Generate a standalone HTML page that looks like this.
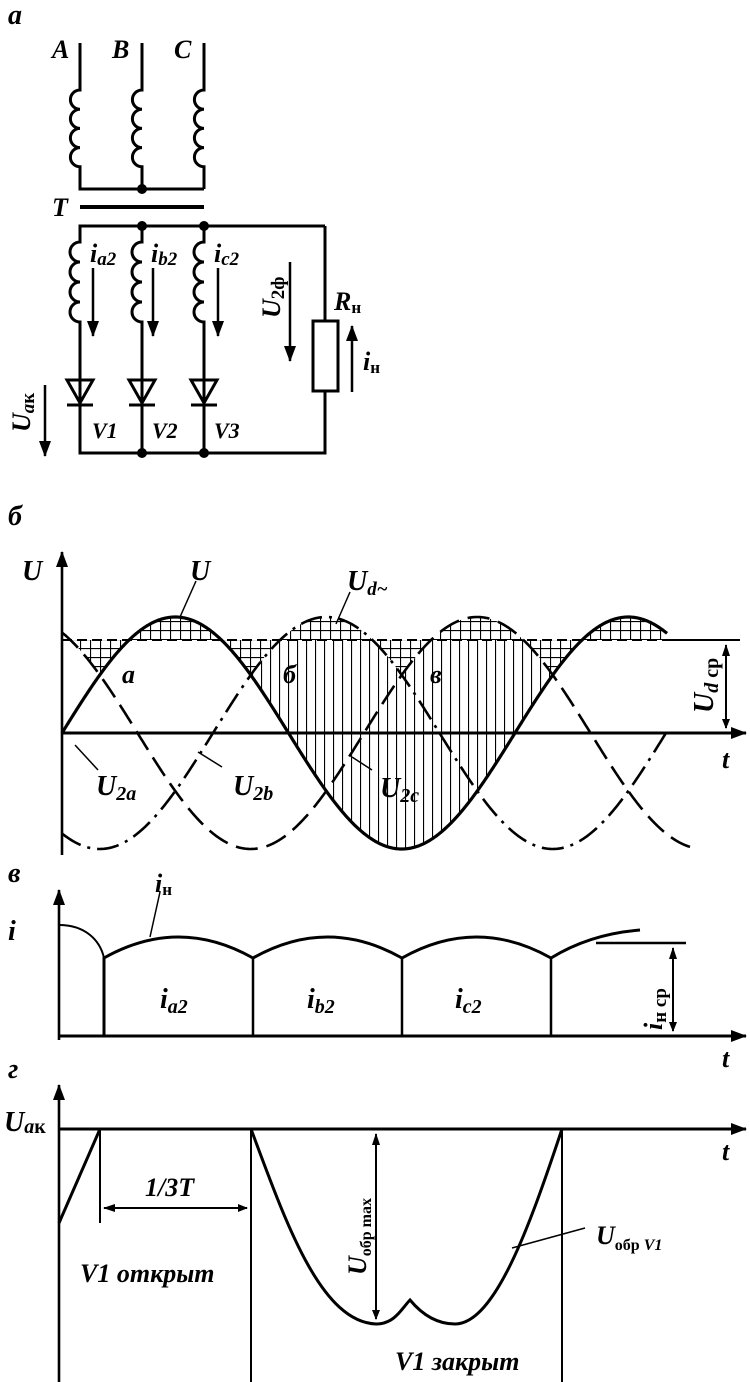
<!DOCTYPE html>
<html><head><meta charset="utf-8"><style>
html,body{margin:0;padding:0;background:#fff}
svg{display:block}
text{font-family:"Liberation Serif",serif;font-weight:bold;font-style:italic;fill:#000}
.n{font-style:normal}
</style></head><body>
<svg id="s" width="750" height="1382" viewBox="0 0 750 1382" xmlns="http://www.w3.org/2000/svg">
<defs>
<marker id="ar" markerWidth="10" markerHeight="10" refX="9" refY="5" orient="auto" markerUnits="userSpaceOnUse"><path d="M0,1 L10,5 L0,9 Z" fill="#000"/></marker>
<marker id="ar2" markerWidth="16" markerHeight="14" refX="15" refY="7" orient="auto" markerUnits="userSpaceOnUse"><path d="M0,1 L16,7 L0,13 Z" fill="#000"/></marker>
<marker id="ars" markerWidth="12" markerHeight="10" refX="1" refY="5" orient="auto" markerUnits="userSpaceOnUse"><path d="M12,1 L0,5 L12,9 Z" fill="#000"/></marker>
<pattern id="grid" width="10" height="9" patternUnits="userSpaceOnUse"><path d="M0,0.5 H10 M0.5,0 V9" stroke="#000" stroke-width="1.2"/></pattern>
<pattern id="vert" width="9" height="10" patternUnits="userSpaceOnUse"><path d="M0.5,0 V10" stroke="#000" stroke-width="1.2"/></pattern>
</defs>

<!-- ===== a: circuit ===== -->
<text x="8" y="24" font-size="28">а</text>
<g stroke="#000" stroke-width="3" fill="none">
<path d="M80,43 V90 a9.6,9.6 0 0 0 0,19.2 a9.6,9.6 0 0 0 0,19.2 a9.6,9.6 0 0 0 0,19.2 a9.6,9.6 0 0 0 0,19.2 V189 H204"/>
<path d="M142,43 V90 a9.6,9.6 0 0 0 0,19.2 a9.6,9.6 0 0 0 0,19.2 a9.6,9.6 0 0 0 0,19.2 a9.6,9.6 0 0 0 0,19.2 V189"/>
<path d="M204,43 V90 a9.6,9.6 0 0 0 0,19.2 a9.6,9.6 0 0 0 0,19.2 a9.6,9.6 0 0 0 0,19.2 a9.6,9.6 0 0 0 0,19.2 V189"/>
<path d="M80,207 H204" stroke-width="4"/>
<path d="M325,226 H80 V242 a10,10 0 0 0 0,20 a10,10 0 0 0 0,20 a10,10 0 0 0 0,20 a10,10 0 0 0 0,20 V453 H325 V391 M325,321 V226"/>
<path d="M142,226 V242 a10,10 0 0 0 0,20 a10,10 0 0 0 0,20 a10,10 0 0 0 0,20 a10,10 0 0 0 0,20 V453"/>
<path d="M204,226 V242 a10,10 0 0 0 0,20 a10,10 0 0 0 0,20 a10,10 0 0 0 0,20 a10,10 0 0 0 0,20 V453"/>
<rect x="313" y="321" width="25" height="70"/>
<path d="M67,380 H93 L80,403 Z M67,405 H93"/>
<path d="M129,380 H155 L142,403 Z M129,405 H155"/>
<path d="M191,380 H217 L204,403 Z M191,405 H217"/>
</g>
<g fill="#000"><circle cx="142" cy="189" r="5"/><circle cx="142" cy="226" r="5"/><circle cx="204" cy="226" r="5"/><circle cx="142" cy="453" r="5"/><circle cx="204" cy="453" r="5"/></g>
<g stroke="#000" stroke-width="2.5" marker-end="url(#ar2)">
<line x1="93" y1="268" x2="93" y2="336"/><line x1="153" y1="268" x2="153" y2="336"/><line x1="218" y1="268" x2="218" y2="336"/>
<line x1="290" y1="262" x2="290" y2="361"/><line x1="352" y1="392" x2="352" y2="326"/><line x1="45" y1="385" x2="45" y2="456"/>
</g>
<text x="52" y="58" font-size="26">A</text><text x="112" y="58" font-size="26">B</text><text x="174" y="58" font-size="26">C</text>
<text x="52" y="216" font-size="26">T</text>
<text x="90" y="262" font-size="26">i<tspan font-size="19" dy="3">a2</tspan></text>
<text x="151" y="262" font-size="26">i<tspan font-size="19" dy="3">b2</tspan></text>
<text x="214" y="262" font-size="26">i<tspan font-size="19" dy="3">c2</tspan></text>
<text transform="translate(280,318) rotate(-90)" font-size="26">U<tspan font-size="19" dy="4" class="n">2ф</tspan></text>
<text x="334" y="310" font-size="26">R<tspan font-size="17" dy="3" class="n">н</tspan></text>
<text x="363" y="370" font-size="26">i<tspan font-size="17" dy="3" class="n">н</tspan></text>
<text transform="translate(30,432) rotate(-90)" font-size="26">U<tspan font-size="19" dy="4">a<tspan class="n">к</tspan></tspan></text>
<text x="92" y="438" font-size="22">V1</text><text x="152" y="438" font-size="22">V2</text><text x="214" y="438" font-size="22">V3</text>

<!-- ===== б ===== -->
<text x="8" y="525" font-size="28">б</text>
<path id="gridReg" fill="url(#grid)" stroke="none"/>
<path id="vertReg" fill="url(#vert)" stroke="none"/>
<line x1="62" y1="640" x2="667" y2="640" stroke="#000" stroke-width="2" stroke-dasharray="10,5"/>
<line x1="667" y1="640" x2="740" y2="640" stroke="#000" stroke-width="2"/>
<path id="cb" fill="none" stroke="#000" stroke-width="2.6" stroke-dasharray="22,7,3,7"/>
<path id="cc" fill="none" stroke="#000" stroke-width="2.6" stroke-dasharray="22,9"/>
<path id="ca" fill="none" stroke="#000" stroke-width="3.2"/>
<line x1="62" y1="855" x2="62" y2="552" stroke="#000" stroke-width="2.6" marker-end="url(#ar2)"/>
<line x1="62" y1="733" x2="746" y2="733" stroke="#000" stroke-width="3" marker-end="url(#ar2)"/>
<line x1="726" y1="645" x2="726" y2="728" stroke="#000" stroke-width="2" marker-end="url(#ar)" marker-start="url(#ars)"/>
<g stroke="#000" stroke-width="1.5">
<line x1="196" y1="581" x2="180" y2="617"/><line x1="350" y1="592" x2="336" y2="624"/>
<line x1="75" y1="745" x2="98" y2="770"/><line x1="198" y1="752" x2="222" y2="767"/><line x1="352" y1="757" x2="372" y2="770"/>
</g>
<text x="22" y="580" font-size="28">U</text>
<text x="190" y="580" font-size="28">U</text>
<text x="347" y="590" font-size="28">U<tspan font-size="19" dy="5">d~</tspan></text>
<text x="122" y="683" font-size="26">а</text><text x="283" y="683" font-size="26">б</text><text x="430" y="683" font-size="26">в</text>
<text x="96" y="795" font-size="28">U<tspan font-size="20" dy="5">2a</tspan></text>
<text x="233" y="795" font-size="28">U<tspan font-size="20" dy="5">2b</tspan></text>
<text x="380" y="797" font-size="28">U<tspan font-size="20" dy="5">2c</tspan></text>
<text x="722" y="768" font-size="26">t</text>
<text transform="translate(713,713) rotate(-90)" font-size="28">U<tspan font-size="20" dy="5">d <tspan class="n">ср</tspan></tspan></text>

<!-- ===== в ===== -->
<text x="8" y="882" font-size="28">в</text>
<line x1="59" y1="1040" x2="59" y2="890" stroke="#000" stroke-width="2.6" marker-end="url(#ar2)"/>
<line x1="59" y1="1036" x2="746" y2="1036" stroke="#000" stroke-width="3" marker-end="url(#ar2)"/>
<g fill="none" stroke="#000">
<path d="M59,925 C85,925 100,940 104,958" stroke-width="2"/>
<path d="M104,1036 V958 Q178.5,916 253,958 Q327.5,916 402,958 Q476.5,916 551,958 Q590,934 640,930" stroke-width="3"/>
<path d="M253,958 V1036 M402,958 V1036 M551,958 V1036" stroke-width="2.5"/>
<path d="M596,943 H686" stroke-width="2.5"/>
<path d="M160,892 L150,937" stroke-width="1.5"/>
</g>
<line x1="673" y1="948" x2="673" y2="1031" stroke="#000" stroke-width="2" marker-end="url(#ar)" marker-start="url(#ars)"/>
<text x="8" y="940" font-size="28">i</text>
<text x="155" y="892" font-size="26">i<tspan font-size="17" dy="3" class="n">н</tspan></text>
<text x="160" y="1008" font-size="28">i<tspan font-size="20" dy="5">a2</tspan></text>
<text x="307" y="1008" font-size="28">i<tspan font-size="20" dy="5">b2</tspan></text>
<text x="455" y="1008" font-size="28">i<tspan font-size="20" dy="5">c2</tspan></text>
<text x="722" y="1067" font-size="26">t</text>
<text transform="translate(662,1030) rotate(-90)" font-size="26">i<tspan font-size="19" dy="4" class="n">н ср</tspan></text>

<!-- ===== г ===== -->
<text x="8" y="1078" font-size="28">г</text>
<line x1="59" y1="1382" x2="59" y2="1085" stroke="#000" stroke-width="2.6" marker-end="url(#ar2)"/>
<line x1="59" y1="1129" x2="746" y2="1129" stroke="#000" stroke-width="3" marker-end="url(#ar2)"/>
<g fill="none" stroke="#000">
<path d="M59,1223 L100,1129" stroke-width="3"/>
<path d="M100,1129 V1223 M251,1129 V1382 M562,1129 V1382" stroke-width="2"/>
<path d="M251,1129 C285,1220 320,1322 376,1324 C395,1324 402,1308 410,1300 C420,1312 435,1324 455,1324 C495,1324 530,1225 562,1129" stroke-width="3"/>
<path d="M585,1228 L512,1248" stroke-width="1.5"/>
</g>
<line x1="104" y1="1208" x2="247" y2="1208" stroke="#000" stroke-width="2" marker-end="url(#ar)" marker-start="url(#ars)"/>
<line x1="376" y1="1134" x2="376" y2="1319" stroke="#000" stroke-width="2" marker-end="url(#ar)" marker-start="url(#ars)"/>
<text x="4" y="1131" font-size="28">U<tspan font-size="20" dy="2">a<tspan class="n">к</tspan></tspan></text>
<text x="722" y="1160" font-size="26">t</text>
<text x="145" y="1196" font-size="26">1/3T</text>
<text x="80" y="1282" font-size="26">V1 открыт</text>
<text x="395" y="1370" font-size="26">V1 закрыт</text>
<text x="596" y="1244" font-size="26">U<tspan font-size="16" dy="6" class="n">обр </tspan><tspan font-size="16">V1</tspan></text>
<text transform="translate(366,1275) rotate(-90)" font-size="26">U<tspan font-size="16" dy="5" class="n">обр max</tspan></text>
</svg>
<script>
(function(){
var A=116,P=453,Y0=733,X0=62,ph=2*Math.PI/3;
function fa(x){return A*Math.sin(2*Math.PI*(x-X0)/P);}
function fb(x){return A*Math.sin(2*Math.PI*(x-X0)/P-ph);}
function fc(x){return A*Math.sin(2*Math.PI*(x-X0)/P+ph);}
function path(f,x1,x2){var d='';for(var x=x1;x<=x2;x+=1){d+=(x==x1?'M':'L')+x+','+(Y0-f(x)).toFixed(2);}return d;}
document.getElementById('ca').setAttribute('d',path(fa,62,667));
document.getElementById('cb').setAttribute('d',path(fb,62,668));
document.getElementById('cc').setAttribute('d',path(fc,62,690));
function env(x){return Math.max(fa(x),fb(x),fc(x));}
var d='M62,640';for(var x=62;x<=667;x++){d+='L'+x+','+(Y0-env(x)).toFixed(2);}d+='L667,640Z';
document.getElementById('gridReg').setAttribute('d',d);
var v='';for(var x=251;x<=553;x++){v+=(x==251?'M':'L')+x+','+(Y0-Math.min(env(x),93)).toFixed(2);}
for(var x=553;x>=251;x--){v+='L'+x+','+(Y0-fa(x)).toFixed(2);}v+='Z';
document.getElementById('vertReg').setAttribute('d',v);
})();
</script>
</body></html>
